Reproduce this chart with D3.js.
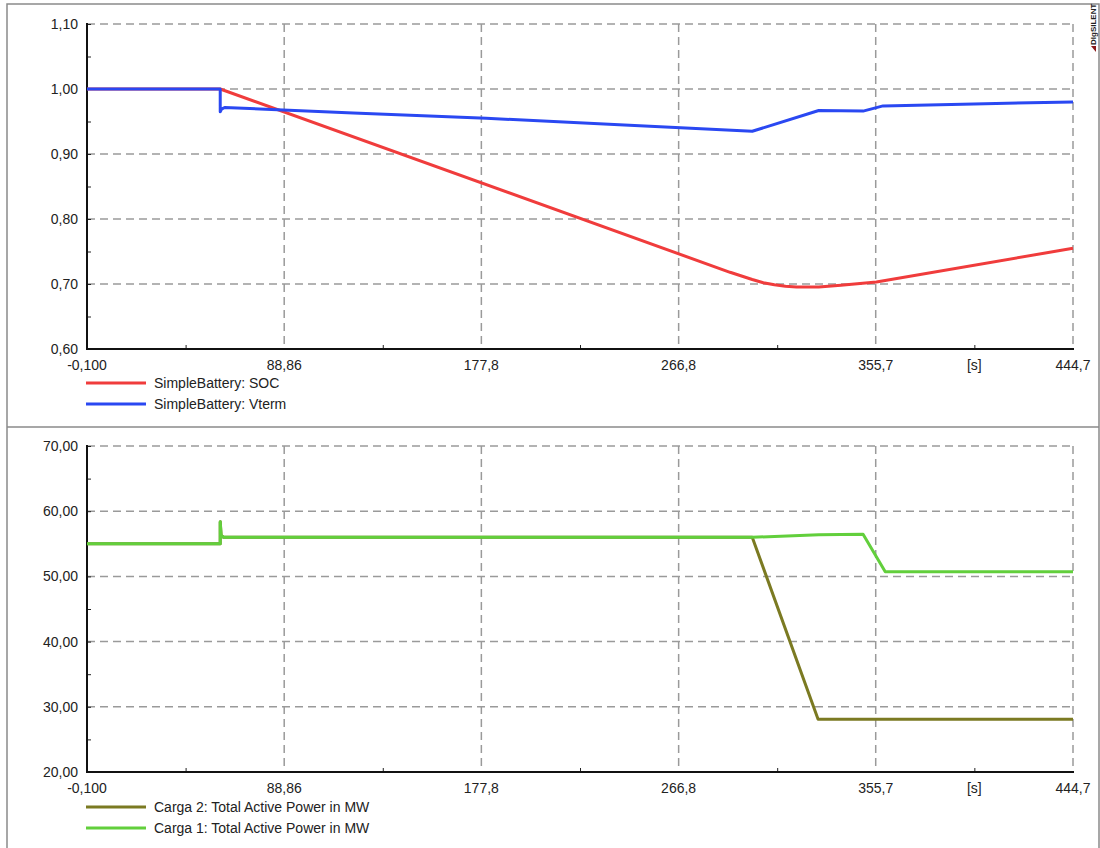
<!DOCTYPE html>
<html>
<head>
<meta charset="utf-8">
<script src="https://cdn.jsdelivr.net/npm/d3@7"></script>
<style>
  body { margin: 0; background: #fff; }
  svg text { font-family: "Liberation Sans", Arial, Helvetica, sans-serif; }
</style>
</head>
<body>
<svg id="chart" width="1100" height="848"></svg>
<script>
// x axis (time, s)
const xTicks = [-0.1, 88.86, 177.8, 266.8, 355.7, 444.7];
const xTickLabels = ["-0,100", "88,86", "177,8", "266,8", "355,7", "444,7"];

// top panel: battery
const yTicksTop = [0.60, 0.70, 0.80, 0.90, 1.00, 1.10];
const yLabelsTop = ["0,60", "0,70", "0,80", "0,90", "1,00", "1,10"];
const tSoc = [-0.1, 60, 290, 300, 305, 310, 315, 320, 330, 340, 356, 444.7];
const soc  = [1.0, 1.0, 0.718, 0.707, 0.702, 0.699, 0.6965, 0.6955, 0.6955, 0.698, 0.703, 0.755];
const tVterm = [-0.1, 60, 60, 60.6, 62, 120, 180, 240, 300, 330, 350, 359, 400, 444.7];
const vterm  = [1.0, 1.0, 0.965, 0.969, 0.9715, 0.963, 0.955, 0.945, 0.935, 0.967, 0.966, 0.974, 0.977, 0.980];

// bottom panel: loads
const yTicksBot = [20, 30, 40, 50, 60, 70];
const yLabelsBot = ["20,00", "30,00", "40,00", "50,00", "60,00", "70,00"];
const tCarga1 = [-0.1, 60, 60, 60.4, 61.5, 300, 330, 350, 360, 444.7];
const carga1  = [55, 55, 58.4, 56.3, 56.0, 56.0, 56.4, 56.45, 50.7, 50.7];
const tCarga2 = [-0.1, 60, 60, 60.4, 61.5, 300, 329.7, 444.7];
const carga2  = [55, 55, 58.4, 56.3, 56.0, 56.0, 28.1, 28.1];

const svg = d3.select("#chart");

// outer frame + separator
svg.append("rect").attr("x", 7).attr("y", 4).attr("width", 1092).attr("height", 900)
  .attr("fill", "none").attr("stroke", "#8a8a8a").attr("stroke-width", 1.5);
svg.append("line").attr("x1", 7).attr("x2", 1099).attr("y1", 427).attr("y2", 427)
  .attr("stroke", "#8a8a8a").attr("stroke-width", 1.5);

// DIgSILENT mark
const logo = svg.append("g").attr("transform", "translate(1096,52) rotate(-90)");
logo.append("path").attr("d", "M0,0 L6,0 L6,-5 Z").attr("fill", "#8b1a1a");
logo.append("text").attr("x", 7).attr("y", 0).attr("font-size", "8px")
  .attr("font-weight", "bold").attr("fill", "#222").text("DIgSILENT");

const x = d3.scaleLinear().domain([-0.1, 444.7]).range([87, 1073]);
const minorX = xTicks.slice(1).map((d, i) => (d + xTicks[i]) / 2);

function panel(top, bottom, yTicks, yLabels, series, legendY) {
  const y = d3.scaleLinear().domain([yTicks[0], yTicks[yTicks.length - 1]]).range([bottom, top]);
  const g = svg.append("g");
  const minorY = yTicks.slice(1).map((d, i) => (d + yTicks[i]) / 2);

  // grid
  g.selectAll(".hgrid").data(yTicks.slice(1)).enter().append("line")
    .attr("x1", 87).attr("x2", 1073).attr("y1", d => y(d)).attr("y2", d => y(d))
    .attr("stroke", "#9a9a9a").attr("stroke-width", 1.5).attr("stroke-dasharray", "8,5");
  g.selectAll(".vgrid").data(xTicks.slice(1)).enter().append("line")
    .attr("x1", d => x(d)).attr("x2", d => x(d)).attr("y1", top).attr("y2", bottom)
    .attr("stroke", "#9a9a9a").attr("stroke-width", 1.5).attr("stroke-dasharray", "8,5");

  // axes
  const xAxis = g.append("g").attr("transform", "translate(0," + bottom + ")")
    .call(d3.axisTop(x).tickValues(minorX).tickSize(4).tickFormat(""));
  xAxis.select(".domain").remove();
  xAxis.selectAll("line").attr("stroke", "#222");
  const yAxis = g.append("g").attr("transform", "translate(87,0)")
    .call(d3.axisRight(y).tickValues(yTicks.concat(minorY)).tickSize(4).tickFormat(""));
  yAxis.select(".domain").remove();
  yAxis.selectAll("line").attr("stroke", "#222");

  g.append("line").attr("x1", 87).attr("x2", 1074).attr("y1", bottom).attr("y2", bottom)
    .attr("stroke", "#111").attr("stroke-width", 2);
  g.append("line").attr("x1", 87).attr("x2", 87).attr("y1", top - 1).attr("y2", bottom + 1)
    .attr("stroke", "#111").attr("stroke-width", 2);

  // tick labels
  g.selectAll(".ylab").data(yTicks).enter().append("text")
    .attr("x", 78).attr("y", d => y(d) + 5).attr("text-anchor", "end")
    .attr("font-size", "14px").attr("fill", "#222")
    .text((d, i) => yLabels[i]);
  g.selectAll(".xlab").data(xTicks).enter().append("text")
    .attr("x", d => x(d)).attr("y", bottom + 21).attr("text-anchor", "middle")
    .attr("font-size", "14px").attr("fill", "#222")
    .text((d, i) => xTickLabels[i]);
  g.append("text").attr("x", x(minorX[minorX.length - 1])).attr("y", bottom + 21)
    .attr("text-anchor", "middle").attr("font-size", "14px").attr("fill", "#222").text("[s]");

  // lines
  const line = d3.line().x(d => x(d[0])).y(d => y(d[1]));
  series.forEach(s => {
    g.append("path").datum(s.t.map((t, i) => [t, s.v[i]]))
      .attr("fill", "none").attr("stroke", s.color).attr("stroke-width", 3)
      .attr("stroke-linejoin", "round").attr("d", line);
  });

  // legend
  series.forEach((s, i) => {
    const ly = legendY + i * 21;
    g.append("line").attr("x1", 86).attr("x2", 146).attr("y1", ly).attr("y2", ly)
      .attr("stroke", s.color).attr("stroke-width", 3);
    g.append("text").attr("x", 154).attr("y", ly + 5).attr("font-size", "14px")
      .attr("fill", "#222").text(s.name);
  });
}

panel(24, 349, yTicksTop, yLabelsTop, [
  { name: "SimpleBattery: SOC", t: tSoc, v: soc, color: "#f03c3c" },
  { name: "SimpleBattery: Vterm", t: tVterm, v: vterm, color: "#2a48f2" }
], 383);

panel(446, 772, yTicksBot, yLabelsBot, [
  { name: "Carga 2: Total Active Power in MW", t: tCarga2, v: carga2, color: "#7b7a22" },
  { name: "Carga 1: Total Active Power in MW", t: tCarga1, v: carga1, color: "#62cf3c" }
], 807);
</script>
</body>
</html>
